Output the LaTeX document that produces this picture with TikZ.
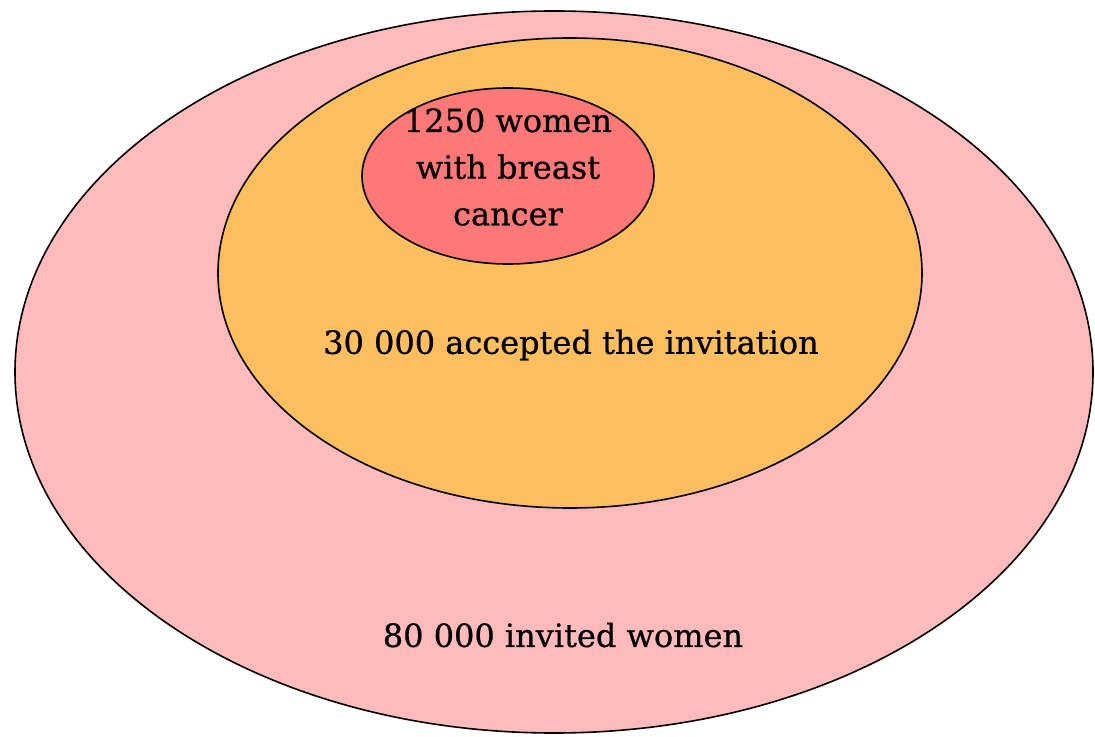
\documentclass[tikz,border=0pt]{standalone}
\usepackage{fontspec}
\setmainfont{DejaVu Serif}[FakeBold=0.6]
\definecolor{invitedfill}{HTML}{FFBBBB}
\definecolor{acceptedfill}{HTML}{FDBE5F}
\definecolor{cancerfill}{HTML}{FF7878}
\begin{document}
\begin{tikzpicture}[x=0.75pt,y=-0.75pt,
  group/.style={draw=black,line width=1.2pt},
  label/.style={font=\fontsize{24}{35}\selectfont,text=black,align=center,inner sep=0pt}]
\useasboundingbox (0,0) rectangle (1095,737);
% nested populations
\draw[group,fill=invitedfill] (554,372) ellipse [x radius=539,y radius=361];
\draw[group,fill=acceptedfill] (570,273) ellipse [x radius=352,y radius=235];
\draw[group,fill=cancerfill] (508,176) ellipse [x radius=146,y radius=88];
% labels
\node[label] (cancer) at (508,167) {1250 women\\with breast\\cancer};
\node[label] (accepted) at (571,345) {30 000 accepted the invitation};
\node[label] (invited) at (563,635) {80 000 invited women};
\end{tikzpicture}
\end{document}
